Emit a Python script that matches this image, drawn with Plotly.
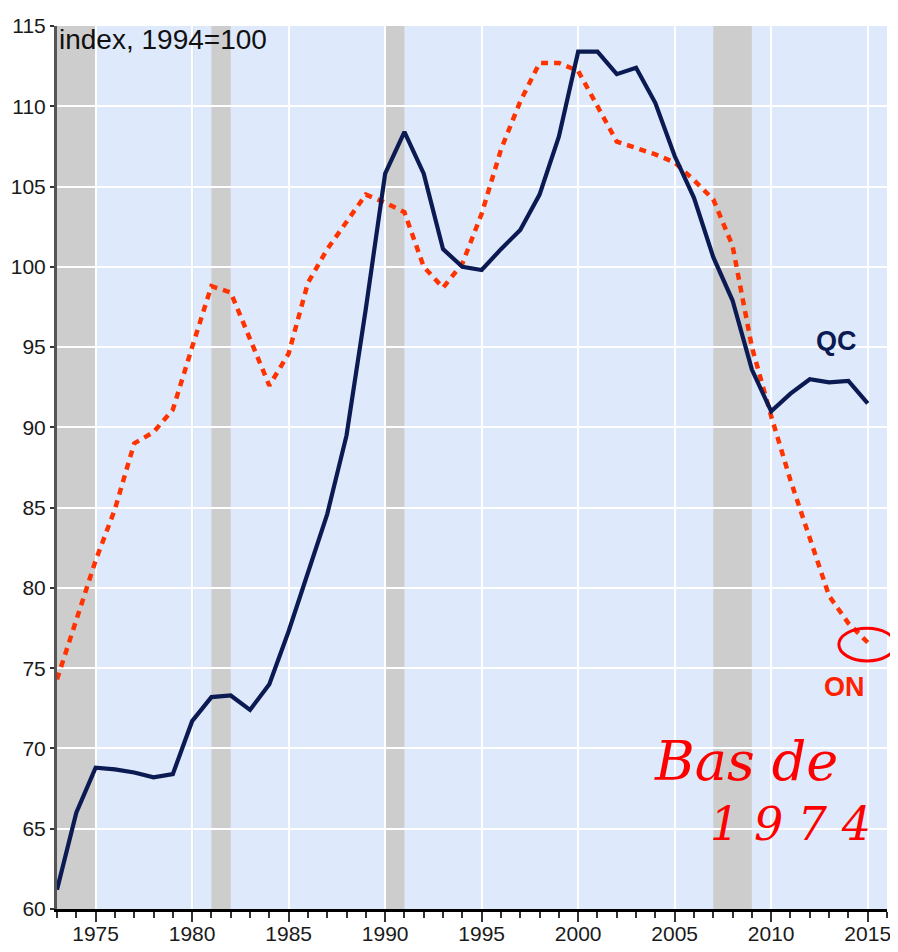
import plotly.graph_objects as go

years = list(range(1973, 2016))
qc = [61.2, 66.0, 68.8, 68.7, 68.5, 68.2, 68.4, 71.7, 73.2, 73.3,
      72.4, 74.0, 77.3, 81.0, 84.6, 89.5, 97.4, 105.8, 108.4, 105.8,
      101.1, 100.0, 99.8, 101.1, 102.3, 104.5, 108.1, 113.4, 113.4, 112.0,
      112.4, 110.2, 106.9, 104.3, 100.6, 97.9, 93.6, 91.0, 92.1, 93.0,
      92.8, 92.9, 91.5]
on = [74.3, 78.0, 81.7, 84.9, 89.0, 89.7, 91.1, 95.0, 98.8, 98.4,
      95.5, 92.6, 94.6, 99.0, 101.1, 102.8, 104.5, 104.0, 103.4, 100.0,
      98.7, 100.2, 103.3, 107.3, 110.3, 112.7, 112.7, 112.2, 110.0, 107.8,
      107.4, 107.0, 106.5, 105.4, 104.2, 101.3, 95.0, 90.7, 86.7, 83.0,
      79.5, 77.8, 76.6]

recession_starts = [1973, 1981, 1990, 2007]
recession_ends = [1975, 1982, 1991, 2009]
single_recession_year = 1980

x_tick_vals = list(range(1975, 2016, 5))
y_tick_vals = list(range(60, 116, 5))

NAVY = "#0B1A52"
RED = "#FF3300"
TICKFONT = dict(family="Liberation Sans Narrow, Arial Narrow, Liberation Sans, Arial", size=21, color="#1a1a1a")

fig = go.Figure()

fig.add_trace(go.Scatter(x=years, y=on, mode="lines", name="ON",
                         line=dict(color=RED, width=4.5, dash="7px,6px"),
                         showlegend=False, hoverinfo="skip"))
fig.add_trace(go.Scatter(x=years, y=qc, mode="lines", name="QC",
                         line=dict(color=NAVY, width=4.2),
                         showlegend=False, hoverinfo="skip"))

shapes = []
for s, e in zip(recession_starts, recession_ends):
    shapes.append(dict(type="rect", xref="x", yref="paper", x0=s, x1=e, y0=0, y1=1,
                       fillcolor="#CDCDCD", line=dict(width=0), layer="below"))
shapes.append(dict(type="line", xref="x", yref="paper", x0=single_recession_year,
                   x1=single_recession_year, y0=0, y1=1,
                   line=dict(color="#A9AEB5", width=2), layer="between"))
# hand-drawn circle around the end of ON
shapes.append(dict(type="circle", xref="paper", yref="paper",
                   x0=0.942, x1=1.010, y0=0.281, y1=0.318,
                   line=dict(color="#FF0000", width=3)))
fig.update_layout(shapes=shapes)

annotations = [
    dict(text="index, 1994=100", xref="paper", yref="paper", x=0.0, y=1.005,
         xanchor="left", yanchor="top", showarrow=False,
         font=dict(family="Liberation Sans, Arial", size=28, color="#111111")),
    dict(text="<b>QC</b>", xref="x", yref="y", x=2013.4, y=95.4,
         xanchor="center", yanchor="middle", showarrow=False,
         font=dict(family="Liberation Sans, Arial", size=27, color=NAVY)),
    dict(text="<b>ON</b>", xref="x", yref="y", x=2013.8, y=73.8,
         xanchor="center", yanchor="middle", showarrow=False,
         font=dict(family="Liberation Sans, Arial", size=27, color="#FF2200")),
    dict(text="<i>Bas de</i>", xref="x", yref="y", x=2008.7, y=69.2,
         xanchor="center", yanchor="middle", showarrow=False,
         font=dict(family="DejaVu Serif, Liberation Serif", size=54, color="#FF0000")),
    dict(text="<i>1 9 7 4</i>", xref="x", yref="y", x=2011.0, y=65.3,
         xanchor="center", yanchor="middle", showarrow=False,
         font=dict(family="DejaVu Serif, Liberation Serif", size=46, color="#FF0000")),
]
fig.update_layout(annotations=annotations)

fig.update_xaxes(range=[1973, 2016], tickmode="array", tickvals=x_tick_vals,
                 ticks="outside", ticklen=10, tickwidth=1.5, tickcolor="#333333",
                 ticklabelstandoff=-6, ticklabeloverflow="allow",
                 minor=dict(dtick=1, tick0=1973, ticks="outside", ticklen=6,
                            tickwidth=1.5, tickcolor="#333333", showgrid=False),
                 showgrid=True, gridcolor="#FFFFFF", gridwidth=2,
                 showline=True, linecolor="#000000", linewidth=3,
                 zeroline=False, tickfont=TICKFONT, automargin=False)
fig.update_yaxes(range=[60, 115], tickmode="array", tickvals=y_tick_vals,
                 ticks="outside", ticklen=4, tickwidth=1.5, tickcolor="#333333",
                 showgrid=True, gridcolor="#FFFFFF", gridwidth=2,
                 showline=True, linecolor="#555555", linewidth=3,
                 zeroline=False, tickfont=TICKFONT, automargin=False)

# page body has an 8px margin; size/margins chosen so the plot area lands at
# x 57..887, y 26..909 in the 898x952 window
fig.update_layout(width=888, height=936,
                  margin=dict(l=49, r=9, t=18, b=35),
                  plot_bgcolor="#DEEAFB", paper_bgcolor="#FFFFFF")

fig.write_html("out.html")
